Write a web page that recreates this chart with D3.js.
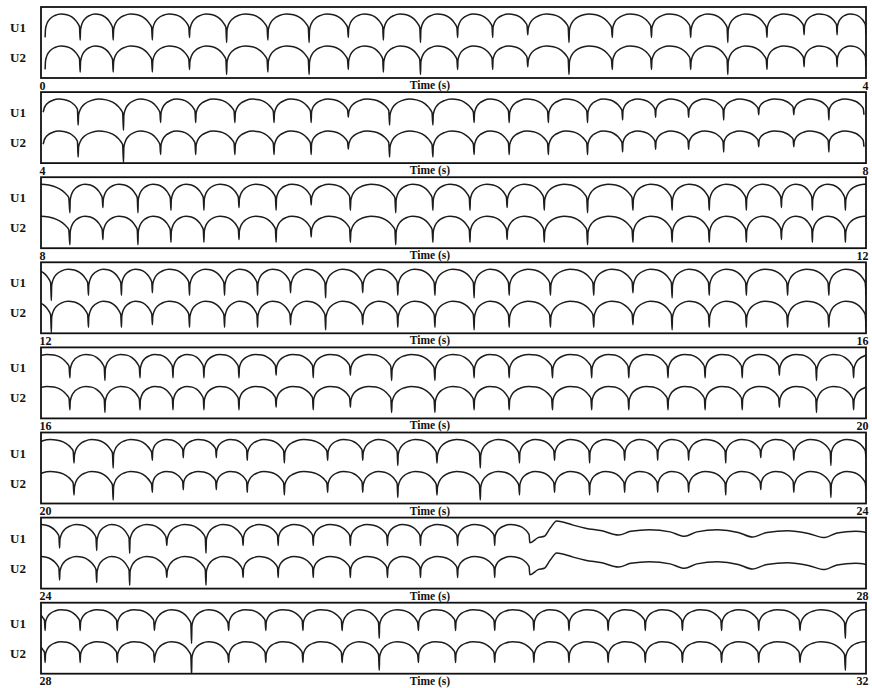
<!DOCTYPE html>
<html>
<head>
<meta charset="utf-8">
<script src="https://cdn.jsdelivr.net/npm/d3@7"></script>
<style>
  body { margin: 0; background: #fff; }
  text { font-family: "Liberation Serif", "DejaVu Serif", serif; font-weight: bold; fill: #111; }
</style>
</head>
<body>
<div id="chart"></div>
<script>
// dip (beat) times, seconds from the start of each 4 s strip
var beats_0_4 = [0.02, 0.19, 0.35, 0.54, 0.72, 0.90, 1.10, 1.30, 1.49, 1.66, 1.84, 2.02, 2.19, 2.36, 2.56, 2.77, 2.96, 3.15, 3.33, 3.52, 3.70, 3.86, 4.00];
var depth_0_4 = [0.9, 1.0, 1.0, 1.0, 0.9, 1.1, 1.0, 1.1, 0.9, 1.0, 1.1, 0.9, 0.9, 0.8, 1.1, 0.9, 0.9, 0.9, 1.1, 0.9, 0.8, 0.8, 0.8];

var beats_4_8 = [0.01, 0.18, 0.40, 0.58, 0.75, 0.94, 1.13, 1.31, 1.49, 1.69, 1.90, 2.10, 2.27, 2.46, 2.65, 2.82, 2.98, 3.14, 3.31, 3.48, 3.65, 3.82, 3.99];
var depth_4_8 = [0.5, 1.0, 1.2, 0.9, 0.9, 0.9, 0.9, 0.9, 0.7, 1.0, 1.0, 0.9, 0.9, 0.9, 0.9, 0.8, 0.7, 0.7, 0.8, 0.6, 0.6, 0.8, 0.6];

var beats_8_12 = [-0.13, 0.14, 0.30, 0.47, 0.63, 0.79, 0.96, 1.14, 1.31, 1.50, 1.72, 1.90, 2.08, 2.26, 2.44, 2.65, 2.87, 3.06, 3.24, 3.42, 3.59, 3.74, 3.90, 4.10];
var depth_8_12 = [1.0, 1.1, 0.9, 1.1, 1.0, 1.0, 0.9, 1.0, 0.8, 1.0, 1.1, 1.0, 1.0, 0.9, 1.0, 1.1, 1.0, 1.0, 1.0, 1.0, 0.9, 1.0, 1.0, 1.0];

var beats_12_16 = [-0.12, 0.05, 0.23, 0.39, 0.54, 0.72, 0.89, 1.05, 1.21, 1.38, 1.56, 1.73, 1.91, 2.10, 2.27, 2.47, 2.68, 2.87, 3.06, 3.24, 3.42, 3.62, 3.82, 4.00];
var depth_12_16 = [1.0, 1.2, 1.0, 1.0, 0.9, 1.0, 1.0, 1.0, 0.9, 1.1, 0.9, 1.0, 1.0, 1.1, 1.0, 1.0, 1.0, 0.9, 1.1, 1.0, 1.0, 1.0, 1.0, 1.0];

var beats_16_20 = [-0.06, 0.14, 0.31, 0.48, 0.64, 0.79, 0.96, 1.14, 1.32, 1.50, 1.70, 1.91, 2.10, 2.27, 2.48, 2.67, 2.85, 3.04, 3.22, 3.40, 3.58, 3.76, 3.94, 4.13];
var depth_16_20 = [0.9, 0.9, 1.0, 0.9, 0.9, 0.9, 0.9, 0.8, 0.9, 0.8, 1.0, 1.0, 0.9, 0.9, 0.9, 0.9, 0.9, 0.9, 0.9, 0.9, 0.8, 1.0, 0.9, 0.9];

var beats_20_24 = [-0.05, 0.16, 0.35, 0.54, 0.69, 0.85, 1.00, 1.18, 1.39, 1.56, 1.73, 1.92, 2.13, 2.32, 2.49, 2.66, 2.83, 2.99, 3.14, 3.32, 3.49, 3.65, 3.83, 4.00];
var depth_20_24 = [0.8, 0.9, 1.1, 0.8, 0.7, 0.7, 0.8, 0.9, 0.8, 0.8, 1.0, 0.9, 1.1, 0.9, 0.8, 0.9, 0.8, 0.8, 0.8, 0.9, 0.7, 0.8, 1.0, 0.7];

var beats_24_28 = [-0.08, 0.09, 0.27, 0.43, 0.61, 0.80, 0.98, 1.15, 1.32, 1.50, 1.68, 1.84, 2.02, 2.20, 2.37];
var depth_24_28 = [0.8, 0.9, 1.0, 1.1, 0.8, 1.1, 0.8, 0.8, 0.8, 0.8, 0.8, 0.8, 0.8, 0.8, 0.7];
// irregular stretch after the upswing in 24-28 s: [time, level]
var tail_24_28 = [[2.41, 0.50], [2.44, 0.45], [2.47, 0.12], [2.50, -0.14], [2.53, -0.10], [2.58, 0.02], [2.64, 0.14], [2.72, 0.24], [2.80, 0.40], [2.86, 0.26],
                  [2.95, 0.20], [3.05, 0.28], [3.12, 0.45], [3.18, 0.28], [3.28, 0.20], [3.38, 0.30], [3.45, 0.48], [3.52, 0.30],
                  [3.62, 0.24], [3.72, 0.34], [3.80, 0.50], [3.86, 0.32], [3.95, 0.26], [4.00, 0.30]];

var beats_28_32 = [-0.14, 0.02, 0.19, 0.37, 0.55, 0.73, 0.91, 1.09, 1.27, 1.46, 1.64, 1.83, 2.01, 2.20, 2.39, 2.56, 2.75, 2.93, 3.11, 3.30, 3.48, 3.68, 3.90, 4.10];
var depth_28_32 = [0.8, 0.8, 0.8, 0.8, 0.8, 1.3, 0.8, 0.8, 0.8, 0.8, 1.1, 0.8, 0.8, 0.8, 0.8, 0.8, 0.8, 0.8, 0.8, 0.8, 0.8, 0.8, 1.1, 0.8];

var stripStarts = [0, 4, 8, 12, 16, 20, 24, 28];
var stripBeats = [beats_0_4, beats_4_8, beats_8_12, beats_12_16, beats_16_20, beats_20_24, beats_24_28, beats_28_32];
var stripDepth = [depth_0_4, depth_4_8, depth_8_12, depth_12_16, depth_16_20, depth_20_24, depth_24_28, depth_28_32];
var leadNames = ["U1", "U2"];

// shape of one beat between two dips: fraction of interval, level (0 = crest, 1 = dip)
var archU = [0.01, 0.03, 0.07, 0.15, 0.28, 0.45, 0.62, 0.76, 0.87, 0.94, 0.98];
var archLevel = [0.62, 0.48, 0.33, 0.18, 0.06, 0.00, 0.03, 0.12, 0.26, 0.40, 0.52];

var W = 872, H = 688;
var left = 41, right = 866;
var stripTop = 7, stripStep = 85.1, boxH = 71;

var svg = d3.select("#chart").append("svg")
    .attr("width", W)
    .attr("height", H);

function tracePoints(beats, depth, tail){
    var pts = [];
    for (var i = 0; i < beats.length - 1; i++){
        var t0 = beats[i], t1 = beats[i + 1];
        var s = Math.min(1, (depth[i] + depth[i + 1]) / 2);
        pts.push([t0, depth[i]]);
        archU.forEach(function(u, k){
            pts.push([t0 + u * (t1 - t0), archLevel[k] * s]);
        });
    }
    pts.push([beats[beats.length - 1], depth[depth.length - 1]]);
    if (tail) pts = pts.concat(tail);
    return pts;
}

stripStarts.forEach(function(start, si){
    var top = stripTop + si * stripStep;
    var g = svg.append("g").attr("transform", "translate(0," + top + ")");

    var x = d3.scaleLinear().domain([start, start + 4]).range([left, right]);
    var yU1 = d3.scaleLinear().domain([0, 1]).range([7, 33]);
    var yU2 = d3.scaleLinear().domain([0, 1]).range([39, 65]);

    g.append("clipPath").attr("id", "clip" + si)
        .append("rect")
        .attr("x", left).attr("y", 0)
        .attr("width", right - left).attr("height", boxH);

    var pts = tracePoints(stripBeats[si], stripDepth[si], si === 6 ? tail_24_28 : null)
        .map(function(p){ return [p[0] + start, p[1]]; });

    [yU1, yU2].forEach(function(y, li){
        var line = d3.line()
            .x(function(d){ return x(d[0]); })
            .y(function(d){ return y(d[1]); })
            .curve(d3.curveMonotoneX);
        g.append("path")
            .datum(pts)
            .attr("clip-path", "url(#clip" + si + ")")
            .attr("d", line)
            .attr("fill", "none")
            .attr("stroke", "#1c1c1c")
            .attr("stroke-width", 1.5)
            .attr("stroke-linejoin", "round");

        g.append("text")
            .attr("x", 10)
            .attr("y", (li === 0 ? 20 : 50) + 5)
            .attr("font-size", 13)
            .text(leadNames[li]);
    });

    g.append("rect")
        .attr("x", left).attr("y", 0)
        .attr("width", right - left).attr("height", boxH)
        .attr("fill", "none")
        .attr("stroke", "#111")
        .attr("stroke-width", 1.8);

    var axis = d3.axisBottom(x).tickValues([start, start + 4]).tickFormat(d3.format("d"))
        .tickSize(0).tickPadding(3);
    var ax = g.append("g")
        .attr("transform", "translate(0," + boxH + ")")
        .call(axis);
    ax.select(".domain").remove();
    ax.selectAll("text")
        .attr("font-size", 12)
        .attr("font-family", "Liberation Serif")
        .attr("font-weight", "bold")
        .attr("fill", "#111")
        .attr("text-anchor", function(d, i){ return i === 0 ? "start" : "end"; })
        .attr("dx", function(d, i){ return i === 0 ? -2 : 2; });

    g.append("text")
        .attr("x", 430)
        .attr("y", boxH + 11)
        .attr("text-anchor", "middle")
        .attr("font-size", 11.5)
        .text("Time (s)");
});
</script>
</body>
</html>
